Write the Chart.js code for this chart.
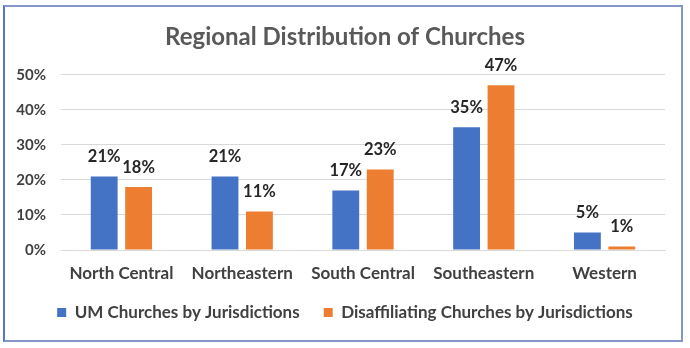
<!DOCTYPE html>
<html>
<head>
<meta charset="utf-8">
<script src="https://cdn.jsdelivr.net/npm/chart.js@4/dist/chart.umd.min.js"></script>
<style>
  html, body { margin: 0; padding: 0; background: #fff; }
  #wrap { position: relative; width: 690px; height: 348px; }
  #frame {
    position: absolute; left: 3px; top: 5px; width: 676px; height: 333px;
    border: 2px solid #8497c8; border-left-color: #4f78cc;
    pointer-events: none;
  }
  canvas { position: absolute; left: 0; top: 0; }
</style>
</head>
<body>
<div id="wrap">
  <canvas id="churchChart" width="690" height="348"></canvas>
  <div id="frame"></div>
</div>
<script>
// Jurisdictions and share of churches (%)
const categories = ['North Central', 'Northeastern', 'South Central', 'Southeastern', 'Western'];
const umChurches = [21, 21, 17, 35, 5];
const disaffiliating = [18, 11, 23, 47, 1];
const yTicks = [0, 10, 20, 30, 40, 50];

const FONT = 'Lato, "Open Sans", sans-serif';

// Percent labels above each bar
const barLabels = {
  id: 'barLabels',
  afterDatasetsDraw(chart) {
    const ctx = chart.ctx;
    ctx.save();
    ctx.font = 'bold 16.5px ' + FONT;
    ctx.fillStyle = '#262626';
    ctx.textAlign = 'center';
    ctx.textBaseline = 'alphabetic';
    chart.data.datasets.forEach((ds, i) => {
      chart.getDatasetMeta(i).data.forEach((bar, j) => {
        ctx.fillText(ds.data[j] + '%', bar.x, bar.y - 14);
      });
    });
    ctx.restore();
  }
};

new Chart(document.getElementById('churchChart'), {
  type: 'bar',
  data: {
    labels: categories,
    datasets: [
      { label: 'UM Churches by Jurisdictions', data: umChurches, backgroundColor: '#4472C4' },
      { label: 'Disaffiliating Churches by Jurisdictions', data: disaffiliating, backgroundColor: '#ED7D31' }
    ]
  },
  options: {
    responsive: false,
    animation: false,
    categoryPercentage: 0.57,
    barPercentage: 0.78,
    layout: { padding: { top: 0, left: 0, right: 0, bottom: 17 } },
    plugins: {
      title: {
        display: true,
        text: 'Regional Distribution of Churches',
        color: '#595959',
        font: { family: FONT, size: 24, weight: 'bold', lineHeight: 1.2 },
        padding: { top: 23, bottom: 23 }
      },
      legend: {
        position: 'bottom',
        labels: {
          color: '#404040',
          font: { family: FONT, size: 17, weight: 'bold' },
          boxWidth: 9,
          boxHeight: 9,
          padding: 24
        }
      },
      tooltip: { enabled: false }
    },
    scales: {
      x: {
        grid: { display: false },
        border: { color: '#d9d9d9' },
        ticks: { color: '#404040', font: { family: FONT, size: 17, weight: 'bold' }, padding: 5 },
        afterFit(scale) { scale.height = 30; }
      },
      y: {
        min: 0,
        max: 50,
        afterBuildTicks(scale) { scale.ticks = yTicks.map(v => ({ value: v })); },
        afterFit(scale) { scale.width = 61; },
        grid: { color: '#d9d9d9', drawTicks: false },
        border: { display: false },
        ticks: {
          color: '#404040',
          font: { family: FONT, size: 15, weight: 'bold' },
          padding: 15,
          callback: v => v + '%'
        }
      },
      // empty right-hand gutter so the legend centres on the full frame
      gutter: {
        type: 'linear',
        position: 'right',
        grid: { display: false },
        border: { display: false },
        ticks: { display: false },
        afterFit(scale) { scale.width = 25; }
      }
    }
  },
  plugins: [barLabels]
});
</script>
</body>
</html>
